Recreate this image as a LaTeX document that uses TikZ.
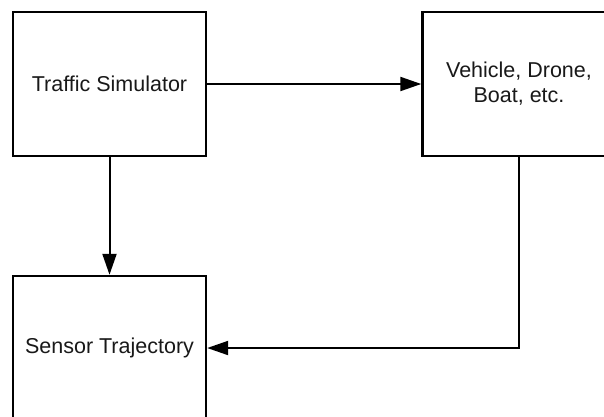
\documentclass[tikz,border=0pt]{standalone}
\usepackage{fontspec}
\setmainfont{Liberation Sans}
\usetikzlibrary{arrows.meta}
\begin{document}
\begin{tikzpicture}[x=1pt,y=-1pt,
  block/.style={draw=black,line width=2.4pt,minimum width=193pt,minimum height=144pt,
    inner sep=0pt,align=center,font=\fontsize{21.5}{25}\selectfont,text=black!90},
  flow/.style={line width=2pt,-{Triangle[length=21pt,width=14pt]}}]
\clip (0,0) rectangle (604,416);
\fill[white] (0,0) rectangle (604,416);
\node[block] (sim) at (109.5,84) {Traffic Simulator};
\node[block] (veh) at (519,84) {Vehicle, Drone,\\Boat, etc.};
\node[block] (sen) at (109.5,348) {Sensor Trajectory};
\draw[flow] (sim.east) -- (veh.west);
\draw[flow] (sim.south) -- (sen.north);
\draw[flow] (veh.south) |- (sen.east);
\end{tikzpicture}
\end{document}
